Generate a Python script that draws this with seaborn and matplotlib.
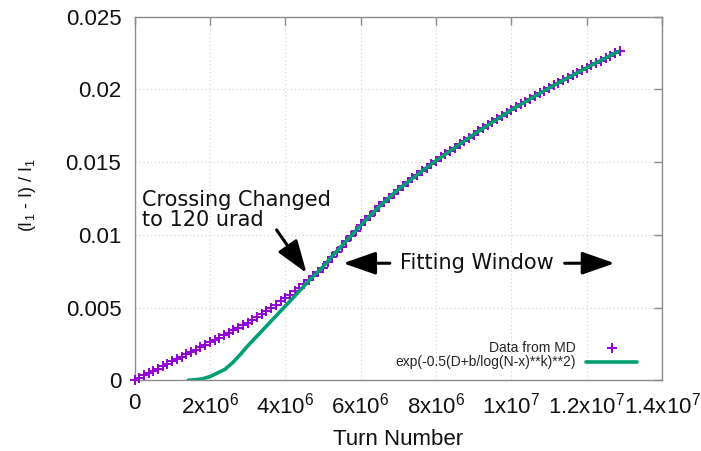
import numpy as np
import pandas as pd
import matplotlib
matplotlib.use("Agg")
import matplotlib.pyplot as plt
import seaborn as sns

# ---------------- data ----------------
# MD data: one point every 1.25e5 turns
md_step = 125000
md_y_milli = [0, 0.16, 0.33, 0.49, 0.65, 0.81, 0.98, 1.14, 1.30,
              1.46, 1.63, 1.79, 1.95, 2.11, 2.28, 2.44, 2.60,
              2.77, 2.94, 3.11, 3.28, 3.44, 3.61, 3.78, 3.95,
              4.15, 4.35, 4.55, 4.75,
              4.98, 5.20, 5.43, 5.65,
              5.89, 6.13, 6.36, 6.60,
              6.89, 7.18, 7.46, 7.75,
              8.11, 8.48, 8.84, 9.20,
              9.56, 9.93, 10.29, 10.65,
              10.99, 11.32, 11.64, 11.96,
              12.26, 12.55, 12.84, 13.12,
              13.38, 13.63, 13.88, 14.13, 14.37, 14.61, 14.86, 15.10,
              15.33, 15.55, 15.78, 16.00, 16.23, 16.45, 16.68, 16.90,
              17.11, 17.33, 17.54, 17.75, 17.96, 18.18, 18.39, 18.60,
              18.79, 18.98, 19.16, 19.35, 19.54, 19.73, 19.91, 20.10,
              20.28, 20.45, 20.63, 20.80, 20.98, 21.15, 21.33, 21.50,
              21.66, 21.83, 21.99, 22.16, 22.32, 22.49, 22.65]
md_turns = np.arange(len(md_y_milli)) * md_step

# fitted curve
fit_turns_M = [1.43, 1.6, 1.8, 2.0, 2.2, 2.4, 2.6, 2.8, 3.0, 3.2, 3.4, 3.6, 3.8,
               4.0, 4.2, 4.4, 4.6, 4.8, 5.0, 5.25, 5.5, 5.75, 6.0, 6.25, 6.5, 6.75,
               7.0, 7.5, 8.0, 9.0, 10.0, 11.0, 12.0, 12.83]
fit_y_milli = [0.0, 0.03, 0.1, 0.25, 0.5, 0.75, 1.2, 1.75, 2.35, 2.9, 3.45, 4.0, 4.55,
               5.1, 5.65, 6.2, 6.78, 7.3, 7.8, 8.55, 9.25, 9.95, 10.65, 11.32, 11.96,
               12.55, 13.12, 14.13, 15.1, 16.9, 18.6, 20.1, 21.5, 22.6]

series_labels = ["Data from MD", "exp(-0.5(D+b/log(N-x)**k)**2)"]
x_ticks = [0, 2e6, 4e6, 6e6, 8e6, 1e7, 1.2e7, 1.4e7]
x_tick_labels = ["0", "2x10$^{6}$", "4x10$^{6}$", "6x10$^{6}$", "8x10$^{6}$",
                 "1x10$^{7}$", "1.2x10$^{7}$", "1.4x10$^{7}$"]
y_ticks = [0, 0.005, 0.01, 0.015, 0.02, 0.025]
y_tick_labels = ["0", "0.005", "0.01", "0.015", "0.02", "0.025"]

md = pd.DataFrame({"turn": md_turns, "val": np.array(md_y_milli) * 1e-3})
fit = pd.DataFrame({"turn": np.array(fit_turns_M) * 1e6, "val": np.array(fit_y_milli) * 1e-3})

# ---------------- style ----------------
sns.set_style("white")
plt.rcParams["font.family"] = ["Liberation Sans", "DejaVu Sans"]
plt.rcParams["mathtext.fontset"] = "custom"
plt.rcParams["mathtext.rm"] = "Liberation Sans"
plt.rcParams["mathtext.it"] = "Liberation Sans:italic"
plt.rcParams["mathtext.bf"] = "Liberation Sans:bold"

PURPLE = "#9400D3"
GREEN = "#009E73"
AXC = "#8c8c8c"

fig = plt.figure(figsize=(7.01, 4.51), dpi=100)
ax = fig.add_axes([0.1919, 0.1568, 0.7525, 0.806])

sns.scatterplot(data=md, x="turn", y="val", marker="+", s=60, color=PURPLE,
                linewidth=1.4, ax=ax, label=series_labels[0], clip_on=False, zorder=3)
sns.lineplot(data=fit, x="turn", y="val", color=GREEN, linewidth=2.6, ax=ax,
             label=series_labels[1], zorder=4)

ax.set_xlim(0, 1.4e7)
ax.set_ylim(0, 0.025)
ax.set_xticks(x_ticks)
ax.set_xticklabels(x_tick_labels)
ax.set_yticks(y_ticks)
ax.set_yticklabels(y_tick_labels)

ax.grid(True, linestyle=(0, (1, 2.5)), color="#cfcfcf", linewidth=0.8, zorder=0)
ax.set_axisbelow(True)
for sp in ax.spines.values():
    sp.set_visible(True)
    sp.set_color(AXC)
    sp.set_linewidth(1.0)

ax.tick_params(axis="both", which="major", direction="in", length=6, width=1,
               color=AXC, top=True, right=True, labelsize=16, labelcolor="#111111")
ax.tick_params(axis="x", pad=9)
ax.tick_params(axis="y", pad=9.5)

ax.set_xlabel("Turn Number", fontsize=16, color="#111111")
ax.set_ylabel("(I$_1$ - I) / I$_1$", fontsize=13, color="#111111")
ax.xaxis.set_label_coords(0.5, -0.133)
ax.yaxis.set_label_coords(-0.183, 0.51)

# legend (gnuplot style: text then sample)
handles, labels = ax.get_legend_handles_labels()
ax.legend(handles, labels, loc="lower right", bbox_to_anchor=(0.953, 0.03),
          frameon=False, markerfirst=False, fontsize=10, handlelength=3.7,
          handletextpad=0.7, labelspacing=0.05, borderpad=0, borderaxespad=0)

# annotations
ann_font = dict(family="DejaVu Sans", fontsize=15, color="#111111")
ax.text(0.2e6, 0.01199, "Crossing Changed", ha="left", va="baseline", **ann_font)
ax.text(0.2e6, 0.01061, "to 120 urad", ha="left", va="baseline", **ann_font)
arrow_kw = dict(arrowstyle="-|>,head_length=1.0,head_width=0.35", color="black",
                lw=2.2, mutation_scale=20, shrinkA=0, shrinkB=0)
ax.annotate("", xy=(4.566e6, 0.00738), xytext=(3.771e6, 0.01034), arrowprops=arrow_kw)
ax.text(9.096e6, 0.00762, "Fitting Window", ha="center", va="baseline", **ann_font)
ax.annotate("", xy=(5.537e6, 0.00805), xytext=(6.775e6, 0.00805), arrowprops=arrow_kw)
ax.annotate("", xy=(12.742e6, 0.00805), xytext=(11.416e6, 0.00805), arrowprops=arrow_kw)

fig.savefig("out.png", dpi=100)
